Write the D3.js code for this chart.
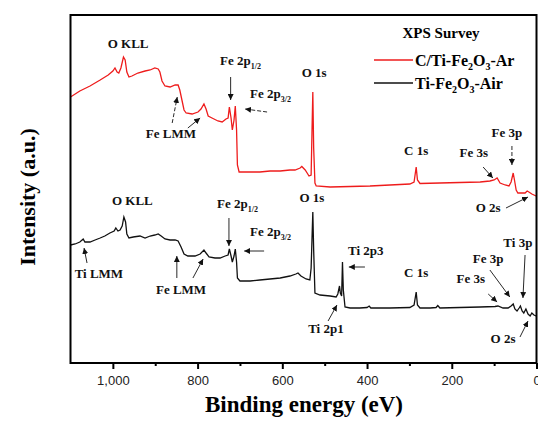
<!DOCTYPE html>
<html>
<head>
<meta charset="utf-8">
<script src="https://cdn.jsdelivr.net/npm/d3@7"></script>
<style>
  body { margin: 0; background: #fff; }
  .lbl { font-family: "Liberation Serif", "Times New Roman", serif; font-weight: bold; font-size: 13px; fill: #111; }
</style>
</head>
<body>
<svg id="chart" width="538" height="423"></svg>
<script>
// binding energy (eV) / intensity (a.u.)
const energyAr = [1100,1078,1054,1030,1011,1000,995,990,986,981,975,971,967,962,955,941,924,912,901,893,889,884,877,865,853,846,842,837,832,827,813,799,792,785,780,775,766,752,742,733,728,725,721,718,714,711,708,706,702,676,653,629,605,582,570,558,554,546,537,532,530,528,526,523,520,487,440,393,346,299,289,284,281,275,228,181,133,110,100,93,86,74,65,60,55,52,48,44,34,27,22,18,11,6,1];
const intensityAr = [266,272,277,283,288,292,295,291,290,295,306,303,291,286,287,290,292,293,295,294,291,282,277,276,278,278,273,263,253,250,249,251,254,259,254,247,245,242,241,244,245,256,245,233,243,257,233,198,191,191,191,192,192,193,193,195,196.5,193,187,188,230,271,215,180,177,176,176.5,177,178,179,181,196,183,179.5,180,180.5,181,182,183,185,180,178,177,181,190,183,173,170,170,170,172,171,169,168,167];

const energyAir = [1100,1089,1078,1070,1066,1054,1042,1030,1019,1007,997,993,988,983,978,974,970,967,962,952,936,924,912,901,893,886,877,865,853,846,839,832,823,806,794,785,780,773,759,747,735,728,725,721,718,714,711,708,706,700,676,653,629,605,582,568,563,556,544,535,532,530,528,526,523,511,487,473,469,465,463,460,458,456,452,440,417,400,395,391,346,299,289,284,281,275,251,237,233,228,181,133,98,91,79,67,60,55,51,46,41,38,34,30,25,20,15,11,6,1];
const intensityAir = [118,119,121,124,121,121,123,125,127,130,132,135,132,133,137,146,141,129,125,126,127,125,127,128,129,127,124,123,123,122,116,109,107,107,109,113,110,106,105,105,107,108,114,107,101,107,114,101,85,82,82,83,84,85,87,89,90,87,84,83,95,123,151,113,70,68,67,66,69,77,70,67,101,73,56,55,55,55.5,57,55,55,55.5,58,71,58,55,55,55.5,57.5,55,55.5,56,56.5,57,55,55,57,59,54,52,55,57,52,50,54,49,47,50,48,47];

const majorTicks = [1000, 800, 600, 400, 200, 0];
const minorTicks = [900, 700, 500, 300, 100];

// peak labels: position in eV / a.u.
const labels = [
  {t: "O KLL", e: 964, i: 315, a: "middle"},
  {t: "Fe 2p", s: "1/2", e: 747, i: 298, a: "start"},
  {t: "Fe 2p", s: "3/2", e: 676, i: 265, a: "start"},
  {t: "Fe LMM", e: 863, i: 225, a: "middle"},
  {t: "O 1s", e: 525, i: 286, a: "middle"},
  {t: "C 1s", e: 284, i: 208, a: "middle"},
  {t: "Fe 3s", e: 148, i: 206, a: "middle"},
  {t: "Fe 3p", e: 70, i: 226, a: "middle"},
  {t: "O 2s", e: 114, i: 151, a: "middle"},
  {t: "O KLL", e: 954, i: 158, a: "middle"},
  {t: "Ti LMM", e: 1033, i: 85, a: "middle"},
  {t: "Fe LMM", e: 839, i: 69, a: "middle"},
  {t: "Fe 2p", s: "1/2", e: 754, i: 155, a: "start"},
  {t: "Fe 2p", s: "3/2", e: 676, i: 127, a: "start"},
  {t: "O 1s", e: 530, i: 161, a: "middle", normal: true},
  {t: "Ti 2p3", e: 445, i: 108, a: "start"},
  {t: "Ti 2p1", e: 497, i: 30, a: "middle"},
  {t: "C 1s", e: 284, i: 86, a: "middle"},
  {t: "Fe 3s", e: 155, i: 80, a: "middle"},
  {t: "Fe 3p", e: 114, i: 100, a: "middle"},
  {t: "Ti 3p", e: 44, i: 116, a: "middle"},
  {t: "O 2s", e: 79, i: 20, a: "middle"}
];

// arrows: from (e1,i1) to (e2,i2)
const arrows = [
  {e1: 722, i1: 286, e2: 722, i2: 263},
  {e1: 636, i1: 251, e2: 688, i2: 254, dash: true},
  {e1: 860, i1: 240, e2: 848, i2: 266, dash: true},
  {e1: 823, i1: 235, e2: 794, i2: 245},
  {e1: 126, i1: 196, e2: 103, i2: 185},
  {e1: 58, i1: 217, e2: 58, i2: 198, dash: true},
  {e1: 72, i1: 155, e2: 20, i2: 166},
  {e1: 1061, i1: 100, e2: 1068, i2: 115},
  {e1: 849, i1: 85, e2: 849, i2: 107},
  {e1: 811, i1: 85, e2: 787, i2: 104},
  {e1: 726, i1: 145, e2: 726, i2: 117},
  {e1: 643, i1: 112, e2: 690, i2: 112},
  {e1: 405, i1: 96, e2: 443, i2: 96},
  {e1: 492, i1: 42, e2: 471, i2: 58},
  {e1: 114, i1: 69, e2: 93, i2: 61},
  {e1: 110, i1: 93, e2: 63, i2: 66},
  {e1: 27, i1: 108, e2: 32, i2: 65},
  {e1: 39, i1: 26, e2: 20, i2: 42}
];

const svg = d3.select("#chart");
const plotL = 70.5, plotR = 536.5, plotT = 15, plotB = 363;

const x = d3.scaleLinear().domain([1100, 0]).range([plotL, plotR]);
const y = d3.scaleLinear().domain([0, 348]).range([plotB, plotT]);

svg.append("defs").append("marker")
    .attr("id", "head")
    .attr("markerWidth", 7).attr("markerHeight", 6)
    .attr("refX", 6).attr("refY", 3)
    .attr("orient", "auto")
    .attr("markerUnits", "userSpaceOnUse")
  .append("path")
    .attr("d", "M0,0 L6,3 L0,6 z")
    .attr("fill", "#111");

const line = d3.line().x(d => x(d[0])).y(d => y(d[1]));

svg.append("path")
    .datum(d3.zip(energyAir, intensityAir))
    .attr("fill", "none").attr("stroke", "#111").attr("stroke-width", 1.3)
    .attr("d", line);

svg.append("path")
    .datum(d3.zip(energyAr, intensityAr))
    .attr("fill", "none").attr("stroke", "#ee1c1c").attr("stroke-width", 1.3)
    .attr("d", line);

// frame
svg.append("rect")
    .attr("x", plotL).attr("y", plotT)
    .attr("width", plotR - plotL).attr("height", plotB - plotT)
    .attr("fill", "none").attr("stroke", "#000").attr("stroke-width", 2);

const ax = svg.append("g").attr("transform", `translate(0,${plotB})`)
    .call(d3.axisBottom(x).tickValues(majorTicks).tickSize(6).tickPadding(7));
ax.select(".domain").remove();
ax.selectAll("line").attr("stroke-width", 2);
ax.selectAll("text")
    .attr("font-family", "Liberation Sans, Arial, sans-serif")
    .attr("font-size", 13).attr("fill", "#222");

const mx = svg.append("g").attr("transform", `translate(0,${plotB})`)
    .call(d3.axisBottom(x).tickValues(minorTicks).tickSize(3).tickFormat(""));
mx.select(".domain").remove();
mx.selectAll("line").attr("stroke-width", 2);

// axis titles
svg.append("text")
    .attr("x", 304).attr("y", 412)
    .attr("text-anchor", "middle")
    .attr("font-family", "Liberation Serif, serif").attr("font-weight", "bold")
    .attr("font-size", 23)
    .text("Binding energy (eV)");

svg.append("text")
    .attr("transform", "translate(35,197) rotate(-90)")
    .attr("text-anchor", "middle")
    .attr("font-family", "Liberation Serif, serif").attr("font-weight", "bold")
    .attr("font-size", 22)
    .text("Intensity (a.u.)");

// peak labels
labels.forEach(d => {
  const t = svg.append("text").attr("class", "lbl")
      .attr("x", x(d.e)).attr("y", y(d.i))
      .attr("text-anchor", d.a);
  if (d.normal) t.attr("font-weight", "normal");
  t.append("tspan").text(d.t);
  if (d.s) t.append("tspan").attr("font-size", 8).attr("dy", 4).text(d.s);
});

arrows.forEach(d => {
  svg.append("line")
      .attr("x1", x(d.e1)).attr("y1", y(d.i1))
      .attr("x2", x(d.e2)).attr("y2", y(d.i2))
      .attr("stroke", "#111").attr("stroke-width", 0.9)
      .attr("stroke-dasharray", d.dash ? "4,2" : null)
      .attr("marker-end", "url(#head)");
});

// legend
const lg = svg.append("g").attr("font-family", "Liberation Serif, serif").attr("font-weight", "bold");
lg.append("text").attr("x", 441).attr("y", 38).attr("text-anchor", "middle")
    .attr("font-size", 15).text("XPS Survey");

const legendItems = [
  {name: ["C/Ti-Fe", "2", "O", "3", "-Ar"], color: "#ee1c1c"},
  {name: ["Ti-Fe", "2", "O", "3", "-Air"], color: "#111"}
];
legendItems.forEach((d, k) => {
  const ly = 60 + k * 23;
  lg.append("line").attr("x1", 374).attr("x2", 413).attr("y1", ly).attr("y2", ly)
      .attr("stroke", d.color).attr("stroke-width", 1.3);
  const t = lg.append("text").attr("x", 415).attr("y", ly + 5.5).attr("font-size", 16);
  d.name.forEach((s, j) => {
    const sub = j % 2 === 1;
    t.append("tspan").attr("font-size", sub ? 10 : 16)
        .attr("dy", sub ? 4 : (j > 0 ? -4 : 0)).text(s);
  });
});
</script>
</body>
</html>
